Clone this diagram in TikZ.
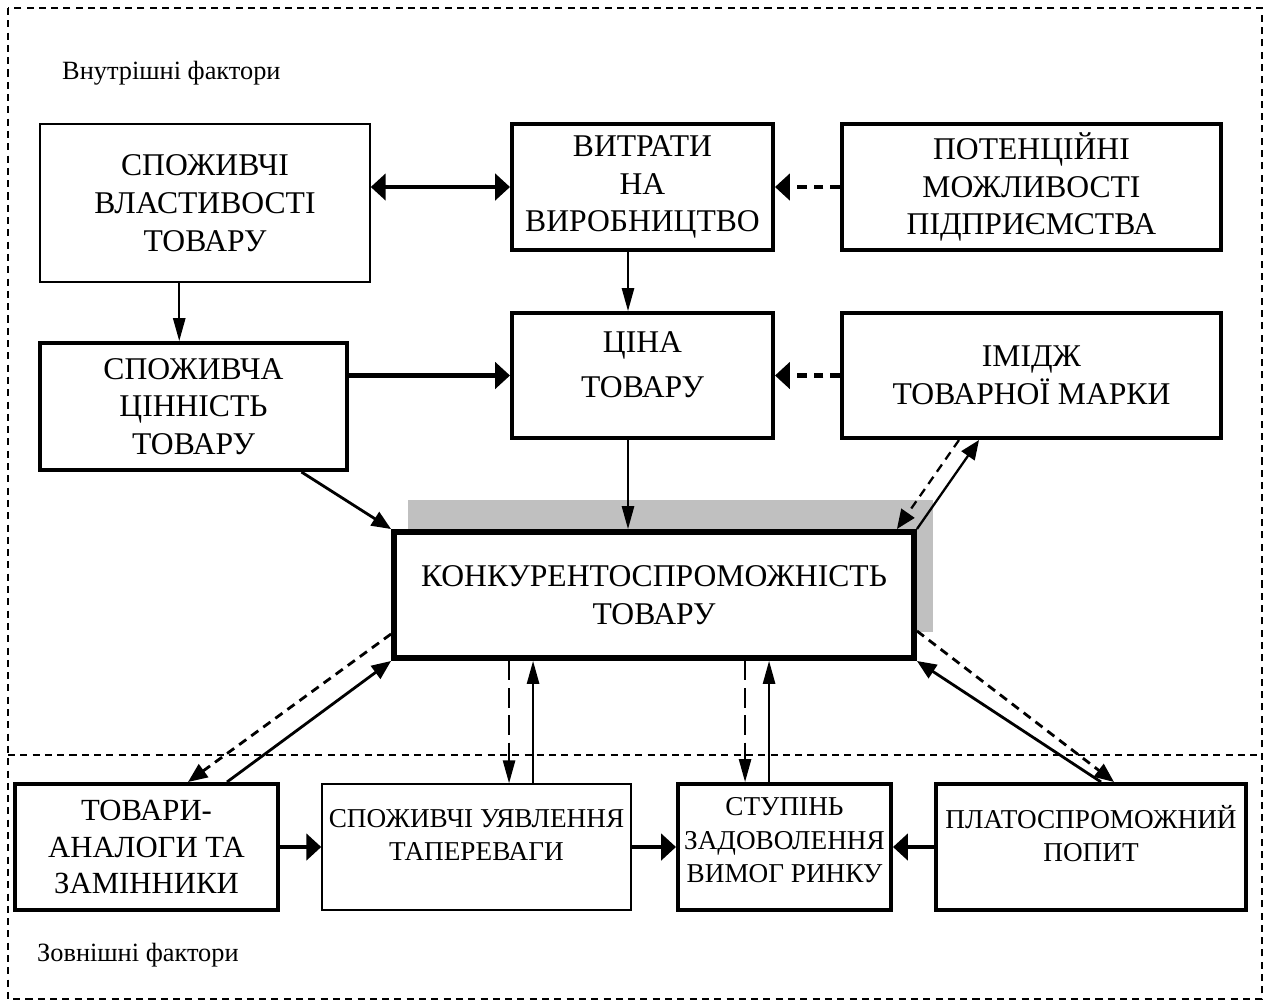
\documentclass[tikz,border=0pt]{standalone}
\usepackage{fontspec}
\setmainfont{Liberation Serif}
\usetikzlibrary{arrows.meta,calc}

\definecolor{shadowgray}{RGB}{192,192,192}
% lift a centred block of lines without changing the node size
\newcommand{\liftup}[2]{\raisebox{#1}[\height][\depth]{\begin{tabular}{@{}c@{}}#2\end{tabular}}}

\tikzset{
  thinbox/.style={draw,line width=0.9pt,fill=white,align=center,inner sep=0pt,
    font=\fontsize{18}{21.5}\selectfont},
  thickbox/.style={thinbox,line width=2.3pt},
  mainbox/.style={thinbox,line width=3.4pt},
  smalltext/.style={font=\fontsize{15.5}{19}\selectfont},
  bigarrow/.style={line width=2.3pt,-{Triangle[length=8.5pt,width=15pt]}},
  bigdashed/.style={bigarrow,dash pattern=on 5.5pt off 4pt},
  thinarrow/.style={line width=0.9pt,-{Triangle[length=13pt,width=7pt]}},
  thindashed/.style={thinarrow,dash pattern=on 11pt off 4.5pt},
  diagarrow/.style={line width=1.6pt,-{Triangle[length=11pt,width=9pt]}},
  diagdashed/.style={diagarrow,dash pattern=on 5pt off 3.5pt},
  frameline/.style={line width=0.7pt,dash pattern=on 4pt off 3pt}
}

\begin{document}
\begin{tikzpicture}[x=0.02cm,y=-0.02cm]

\useasboundingbox (0,0) rectangle (1272,1005);

% zones
\draw[frameline] (8,8) rectangle (1262,999);
\draw[frameline] (8,755) -- (1262,755);
\node[anchor=west,font=\fontsize{15}{18}\selectfont](vnutr) at (56,73){Внутрішні фактори};
\node[anchor=west,font=\fontsize{15}{18}\selectfont](zovn) at (31,955){Зовнішні фактори};

% shadow of the central box
\fill[shadowgray] (408,500) rectangle (933,632);

% internal factors
\node[thinbox,minimum width=6.6cm,minimum height=3.16cm](vlast) at (205,203){СПОЖИВЧІ\\ВЛАСТИВОСТІ\\ТОВАРУ};
\node[thickbox,minimum width=5.22cm,minimum height=2.52cm](vytr) at (642.5,187){ВИТРАТИ\\НА\\ВИРОБНИЦТВО};
\node[thickbox,minimum width=7.58cm,minimum height=2.52cm](potent) at (1031.5,187){ПОТЕНЦІЙНІ\\МОЖЛИВОСТІ\\ПІДПРИЄМСТВА};
\node[thickbox,minimum width=6.16cm,minimum height=2.54cm](tsinn) at (193.5,406.5){СПОЖИВЧА\\ЦІННІСТЬ\\ТОВАРУ};
\node[thickbox,minimum width=5.22cm,minimum height=2.5cm](tsina) at (642.5,375.5){\liftup{4.5pt}{ЦІНА\\[4pt]ТОВАРУ}};
\node[thickbox,minimum width=7.58cm,minimum height=2.5cm](imidzh) at (1031.5,375.5){ІМІДЖ\\ТОВАРНОЇ МАРКИ};
\node[mainbox,minimum width=10.4cm,minimum height=2.52cm](konk) at (654,595){КОНКУРЕНТОСПРОМОЖНІСТЬ\\ТОВАРУ};

% external factors
\node[thickbox,minimum width=5.26cm,minimum height=2.52cm,font=\fontsize{17.5}{20.8}\selectfont](analog) at (146.5,847){ТОВАРИ-\\АНАЛОГИ ТА\\ЗАМІННИКИ};
\node[thinbox,smalltext,minimum width=6.18cm,minimum height=2.52cm](uyavl) at (476.5,847){\liftup{5.5pt}{СПОЖИВЧІ УЯВЛЕННЯ\\ТАПЕРЕВАГИ}};
\node[thickbox,smalltext,minimum width=4.26cm,minimum height=2.52cm](stupin) at (784.5,847){\liftup{2.5pt}{СТУПІНЬ\\ЗАДОВОЛЕННЯ\\ВИМОГ РИНКУ}};
\node[thickbox,smalltext,minimum width=6.2cm,minimum height=2.52cm](popyt) at (1091,847){\liftup{5pt}{ПЛАТОСПРОМОЖНИЙ\\ПОПИТ}};

% points for the vertical connectors
\coordinate (c1) at ($(vlast.south west)+(140,0)$);
\coordinate (c2) at ($(vytr.south west)+(118,0)$);
\coordinate (c3) at ($(tsina.south west)+(118,0)$);
\coordinate (c4) at ($(konk.south west)+(118,0)$);
\coordinate (c5) at ($(konk.south west)+(142,0)$);
\coordinate (c6) at ($(konk.south west)+(354,0)$);
\coordinate (c7) at ($(konk.south west)+(378,0)$);

% connectors
\draw[bigarrow,{Triangle[length=8.5pt,width=15pt]}-{Triangle[length=8.5pt,width=15pt]}] (vytr.west -| vlast.east) -- (vytr.west);
\draw[bigdashed] (potent.west) -- (vytr.east);
\draw[thinarrow] (c1) -- (c1 |- tsinn.north);
\draw[thinarrow] (c2) -- (c2 |- tsina.north);
\draw[bigarrow] (tsina.west -| tsinn.east) -- (tsina.west);
\draw[bigdashed] (imidzh.west) -- (tsina.east);
\draw[thinarrow] (c3) -- (c3 |- konk.north);
\draw[diagarrow] ($(tsinn.south east)+(-48,0)$) -- (konk.north west);
\draw[diagarrow,line width=1.3pt] (konk.north east) -- ($(imidzh.south west)+(139,0)$);
\draw[diagdashed,line width=1.3pt] ($(imidzh.south west)+(119,0)$) -- ($(konk.north east)+(-20,0)$);

\draw[diagarrow] ($(analog.north west)+(214,0)$) -- (konk.south west);
\draw[diagdashed] ($(konk.south west)+(0,-27)$) -- ($(analog.north west)+(175,0)$);
\draw[thindashed] (c4) -- (c4 |- uyavl.north);
\draw[thinarrow] (c5 |- uyavl.north) -- (c5);
\draw[thindashed] (c6) -- (c6 |- stupin.north);
\draw[thinarrow] (c7 |- stupin.north) -- (c7);
\draw[diagarrow] ($(popyt.north west)+(167,0)$) -- (konk.south east);
\draw[diagdashed] ($(konk.south east)+(0,-30)$) -- ($(popyt.north west)+(180,0)$);

\draw[bigarrow] (analog.east) -- (uyavl.west);
\draw[bigarrow] (uyavl.east) -- (stupin.west);
\draw[bigarrow] (popyt.west) -- (stupin.east);

\end{tikzpicture}
\end{document}
